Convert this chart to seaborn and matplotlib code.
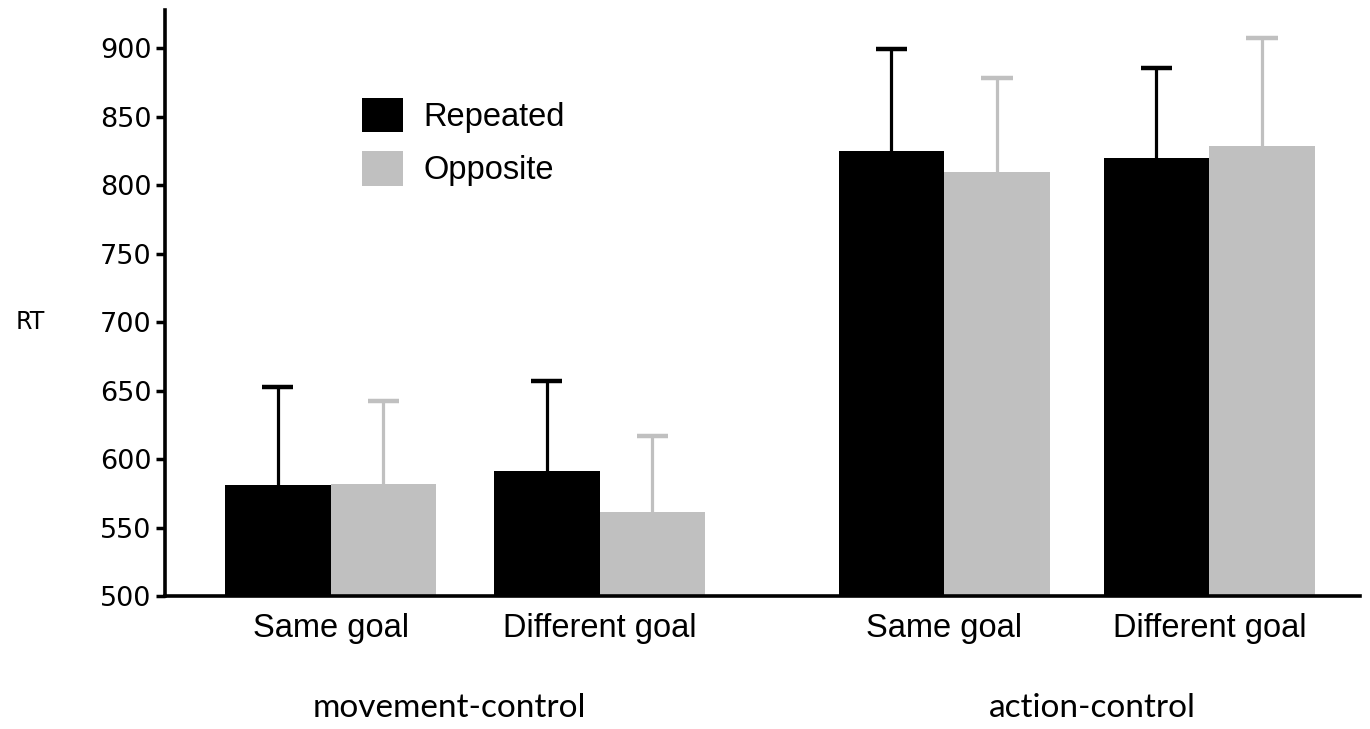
import numpy as np
import pandas as pd
import matplotlib
matplotlib.use("Agg")
import matplotlib.pyplot as plt
import matplotlib.transforms as mtransforms
import seaborn as sns

# ---- data ----
groups = ["movement-control", "movement-control", "action-control", "action-control"]
goals = ["Same goal", "Different goal", "Same goal", "Different goal"]
series = ["Repeated", "Opposite"]
repeated_rt = [581, 591, 825, 820]
opposite_rt = [582, 561, 809.5, 828.5]
repeated_err = [72, 66, 74.6, 66]
opposite_err = [60.7, 55.8, 69, 79]
y_ticks = [500, 550, 600, 650, 700, 750, 800, 850, 900]

# layout (category positions on the x axis)
x_pos = [0.0, 1.0, 2.28, 3.265]
colors = {"Repeated": "#000000", "Opposite": "#c0c0c0"}

df = pd.DataFrame({
    "pos": x_pos * 2,
    "rt": repeated_rt + opposite_rt,
    "series": ["Repeated"] * 4 + ["Opposite"] * 4,
})

sns.set_style("ticks")
plt.rcParams["text.color"] = "black"
plt.rcParams["xtick.color"] = "black"
plt.rcParams["ytick.color"] = "black"
plt.rcParams["axes.edgecolor"] = "black"

fig = plt.figure(figsize=(13.7, 7.29), dpi=100)
ax = fig.add_axes([165 / 1370, 1 - 596 / 729, 1195 / 1370, 586 / 729])

sns.barplot(data=df, x="pos", y="rt", hue="series", hue_order=series,
            native_scale=True, palette=colors, width=0.797, saturation=1,
            errorbar=None, linewidth=0, gap=0, ax=ax, zorder=2)

errs = {"Repeated": repeated_err, "Opposite": opposite_err}
cap_half = 0.058
for cont, name in zip(ax.containers, series):
    xs = np.array([b.get_x() + b.get_width() / 2 for b in cont])
    hs = np.array([b.get_height() for b in cont])
    e = np.array(errs[name])
    ax.vlines(xs, hs, hs + e, colors=colors[name], linewidth=2.3, zorder=1)
    ax.hlines(hs + e, xs - cap_half, xs + cap_half, colors=colors[name],
              linewidth=3.2, zorder=1)

ax.set_ylim(500, 928)
ax.set_xlim(-0.615, 3.825)
ax.set_yticks(y_ticks)
ax.set_yticklabels([str(t) for t in y_ticks], fontsize=19.5, family="DejaVu Sans",
                   color="black")
ax.set_xticks(x_pos)
ax.set_xticklabels(goals, fontsize=23.5, family="Liberation Sans", color="black")
ax.tick_params(axis="x", length=0, pad=12)
ax.tick_params(axis="y", length=6.5, width=2.5, pad=3, direction="out", color="black")
sns.despine(ax=ax)
for s in ["left", "bottom"]:
    ax.spines[s].set_linewidth(2.6)
    ax.spines[s].set_color("black")

ax.set_xlabel("")
ax.set_ylabel("RT", rotation=0, fontsize=17, family="DejaVu Sans", ha="center",
              va="center", color="black")
ax.yaxis.set_label_coords(-0.113, 0.4676)

trans = mtransforms.blended_transform_factory(ax.transData, ax.transAxes)
ax.text(0.44, -0.191, "movement-control", transform=trans, ha="center", va="center",
        fontsize=24, family="Lato", color="black")
ax.text(2.83, -0.191, "action-control", transform=trans, ha="center", va="center",
        fontsize=24, family="Lato", color="black")

h, l = ax.get_legend_handles_labels()
leg = ax.legend(h, l, loc="upper left", bbox_to_anchor=(0.165, 0.85), frameon=False,
                prop={"family": "Liberation Sans", "size": 23.5},
                borderpad=0, borderaxespad=0, handlelength=1.24, handleheight=1.25,
                labelspacing=0.55, handletextpad=0.65)
for t in leg.get_texts():
    t.set_color("black")

fig.savefig("out.png", dpi=100)
